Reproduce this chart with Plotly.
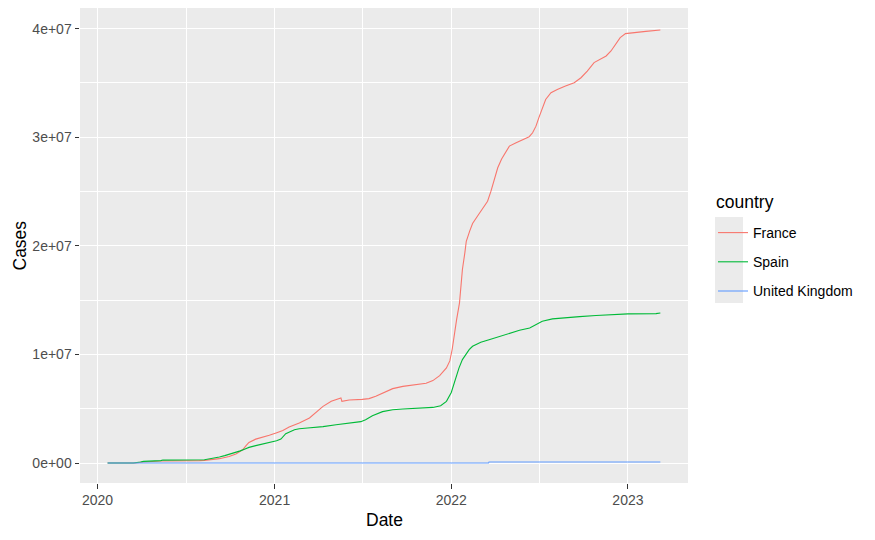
import plotly.graph_objects as go
import pandas as pd

# ---- data ----
france_dates = [
    "2020-01-22", "2020-03-01", "2020-03-20", "2020-04-05", "2020-05-11", "2020-07-30",
    "2020-08-09", "2020-09-09", "2020-09-29", "2020-10-13", "2020-10-27", "2020-11-03",
    "2020-11-09", "2020-11-23", "2020-12-07", "2020-12-21", "2021-01-04", "2021-01-18",
    "2021-01-31", "2021-02-21", "2021-03-14", "2021-03-28", "2021-04-11", "2021-04-28",
    "2021-05-08", "2021-05-18", "2021-05-20", "2021-06-04", "2021-07-01", "2021-07-15",
    "2021-07-29", "2021-08-12", "2021-09-02", "2021-09-23", "2021-10-21", "2021-11-10",
    "2021-11-24", "2021-12-08", "2021-12-22", "2021-12-29", "2022-01-03", "2022-01-07",
    "2022-01-12", "2022-01-18", "2022-01-21", "2022-01-24", "2022-01-29", "2022-02-01",
    "2022-02-08", "2022-02-14", "2022-02-24", "2022-03-06", "2022-03-17", "2022-03-24",
    "2022-03-31", "2022-04-07", "2022-04-15", "2022-04-24", "2022-05-01", "2022-05-15",
    "2022-05-28", "2022-06-11", "2022-06-18", "2022-06-25", "2022-07-01", "2022-07-08",
    "2022-07-15", "2022-07-26", "2022-08-08", "2022-08-25", "2022-09-12", "2022-09-26",
    "2022-10-09", "2022-10-23", "2022-11-02", "2022-11-17", "2022-11-27", "2022-12-07",
    "2022-12-16", "2022-12-27", "2023-01-10", "2023-02-07", "2023-03-09",
]
france_cases = [
    0, 100, 15000, 90000, 180000, 220000,
    240000, 400000, 600000, 830000, 1220000, 1600000,
    1900000, 2200000, 2360000, 2550000, 2770000, 3000000,
    3320000, 3690000, 4150000, 4660000, 5220000, 5680000,
    5830000, 5990000, 5680000, 5800000, 5860000, 5930000,
    6140000, 6450000, 6850000, 7060000, 7190000, 7340000,
    7590000, 8050000, 8760000, 9400000, 10500000, 11800000,
    13200000, 14750000, 16280000, 17820000, 19350000, 20420000,
    21350000, 22060000, 22730000, 23350000, 24110000, 25030000,
    26110000, 27190000, 28000000, 28720000, 29180000, 29490000,
    29730000, 30050000, 30410000, 31020000, 31800000, 32720000,
    33480000, 34100000, 34400000, 34710000, 35020000, 35480000,
    36090000, 36870000, 37110000, 37480000, 37940000, 38550000,
    39170000, 39540000, 39630000, 39750000, 39870000,
]

spain_dates = [
    "2020-01-22", "2020-02-29", "2020-03-15", "2020-03-30", "2020-04-05", "2020-05-11",
    "2020-05-15", "2020-08-09", "2020-08-20", "2020-09-01", "2020-09-09", "2020-09-20",
    "2020-09-29", "2020-10-13", "2020-10-22", "2020-11-01", "2020-11-09", "2020-11-23",
    "2020-12-10", "2020-12-28", "2021-01-05", "2021-01-14", "2021-01-24", "2021-02-11",
    "2021-02-21", "2021-03-10", "2021-04-11", "2021-05-08", "2021-06-04", "2021-06-28",
    "2021-07-08", "2021-07-22", "2021-08-12", "2021-09-02", "2021-09-23", "2021-10-30",
    "2021-11-24", "2021-12-10", "2021-12-22", "2022-01-01", "2022-01-10", "2022-01-17",
    "2022-01-24", "2022-02-01", "2022-02-07", "2022-02-14", "2022-03-03", "2022-03-20",
    "2022-04-10", "2022-05-01", "2022-05-22", "2022-06-12", "2022-06-26", "2022-07-08",
    "2022-07-29", "2022-08-18", "2022-09-23", "2022-10-27", "2022-11-23", "2023-01-01",
    "2023-02-28", "2023-03-09",
]
spain_cases = [
    0, 50, 8000, 90000, 150000, 220000,
    270000, 300000, 370000, 460000, 550000, 680000,
    800000, 950000, 1120000, 1300000, 1440000, 1600000,
    1780000, 1930000, 2050000, 2210000, 2700000, 3070000,
    3160000, 3220000, 3350000, 3530000, 3690000, 3810000,
    3990000, 4360000, 4730000, 4910000, 4980000, 5030000,
    5120000, 5280000, 5680000, 6500000, 7900000, 8760000,
    9520000, 10100000, 10440000, 10750000, 11120000, 11360000,
    11670000, 11980000, 12220000, 12440000, 12750000, 13050000,
    13270000, 13360000, 13480000, 13580000, 13670000, 13730000,
    13760000, 13820000,
]

uk_dates = ["2020-01-22", "2022-03-19", "2022-03-20", "2023-03-09"]
uk_cases = [0, 0, 90000, 90000]

countries = ["France", "Spain", "United Kingdom"]
colors = ["#F8766D", "#00BA38", "#619CFF"]

year_ticks = ["2020-01-01", "2021-01-01", "2022-01-01", "2023-01-01"]
year_labels = ["2020", "2021", "2022", "2023"]
y_tickvals = [0, 10000000, 20000000, 30000000, 40000000]
y_ticktext = ["0e+00", "1e+07", "2e+07", "3e+07", "4e+07"]
y_range = [-1840000, 41900000]

series = [
    (france_dates, france_cases),
    (spain_dates, spain_cases),
    (uk_dates, uk_cases),
]

fig = go.Figure()
for name, color, (d, v) in zip(countries, colors, series):
    fig.add_trace(go.Scatter(
        x=pd.to_datetime(d), y=v, mode="lines", name=name,
        line=dict(color=color, width=1.1), legendgroup=name,
    ))

# ggplot-like 5% expansion on the date axis
all_dates = pd.to_datetime(france_dates + spain_dates + uk_dates)
dmin, dmax = all_dates.min(), all_dates.max()
dpad = (dmax - dmin) * 0.05

# page geometry: the page body adds an 8px offset, so the figure is 8px smaller
OFF = 8
W, H = 875 - OFF, 540 - OFF
# desired panel in page pixels: x 80..688, y 8..483
L, R, T, B = 80 - OFF, W - (688 - OFF), 8 - OFF, H - (483 - OFF)
pw, ph = W - L - R, H - T - B


def px_x(x):
    return (x - OFF - L) / pw


def px_y(y):
    return (H - B - (y - OFF)) / ph


FONT = "Liberation Sans, Arial, sans-serif"
fig.update_layout(
    width=W, height=H,
    margin=dict(l=L, r=R, t=T, b=B, autoexpand=False),
    paper_bgcolor="white", plot_bgcolor="#EBEBEB",
    font=dict(family=FONT, size=14, color="#4D4D4D"),
    showlegend=True,
    legend=dict(
        x=px_x(713), xanchor="left", y=px_y(217), yanchor="top",
        bgcolor="rgba(0,0,0,0)", font=dict(size=14, color="black"),
        tracegroupgap=8,
    ),
    xaxis=dict(
        automargin=False,
        range=[dmin - dpad, dmax + dpad],
        tickvals=pd.to_datetime(year_ticks), ticktext=year_labels,
        showgrid=True, gridcolor="white", gridwidth=1.2,
        minor=dict(tickvals=pd.to_datetime(["2020-07-02", "2021-07-02", "2022-07-02"]),
                   showgrid=True, gridcolor="white", gridwidth=0.6, ticks=""),
        ticks="outside", ticklen=4.5, tickwidth=1.1, tickcolor="#333333",
        zeroline=False, showline=False,
        tickfont=dict(size=14, color="#4D4D4D"),
    ),
    yaxis=dict(
        automargin=False,
        range=y_range,
        tickvals=y_tickvals, ticktext=y_ticktext,
        showgrid=True, gridcolor="white", gridwidth=1.2,
        minor=dict(tickvals=[5000000, 15000000, 25000000, 35000000],
                   showgrid=True, gridcolor="white", gridwidth=0.6, ticks=""),
        ticks="outside", ticklen=4.5, tickwidth=1.1, tickcolor="#333333",
        zeroline=False, showline=False,
        tickfont=dict(size=14, color="#4D4D4D"),
    ),
    annotations=[
        dict(text="Date", xref="paper", yref="paper", x=0.5, y=px_y(520),
             xanchor="center", yanchor="middle", showarrow=False,
             font=dict(size=17.5, color="black")),
        dict(text="Cases", xref="paper", yref="paper", x=px_x(19), y=0.5,
             xanchor="center", yanchor="middle", showarrow=False, textangle=-90,
             font=dict(size=17.5, color="black")),
        dict(text="country", xref="paper", yref="paper", x=px_x(714), y=px_y(202),
             xanchor="left", yanchor="middle", showarrow=False,
             font=dict(size=17.5, color="black")),
    ],
    shapes=[dict(type="rect", xref="paper", yref="paper",
                 x0=px_x(715), x1=px_x(743), y0=px_y(303), y1=px_y(217),
                 fillcolor="#EBEBEB", line=dict(width=0), layer="below")],
)

fig.write_html("out.html")
